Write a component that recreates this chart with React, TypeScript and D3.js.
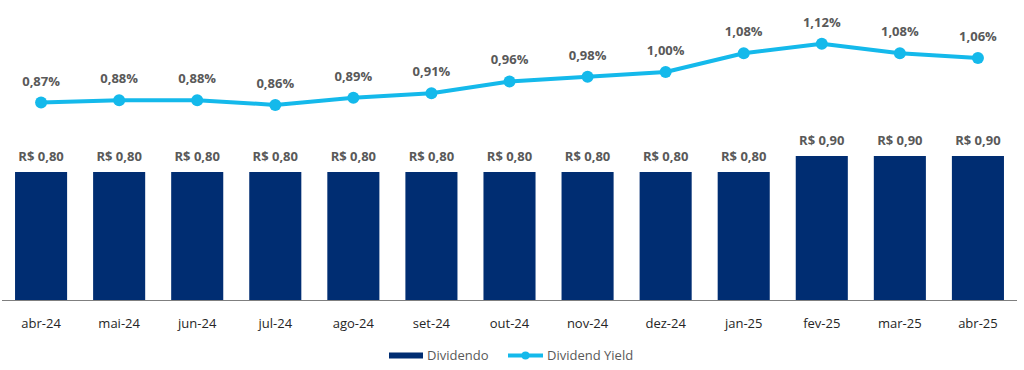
import React from 'react';
import { scaleBand, scaleLinear, line } from 'd3';

const months = ['abr-24', 'mai-24', 'jun-24', 'jul-24', 'ago-24', 'set-24', 'out-24', 'nov-24', 'dez-24', 'jan-25', 'fev-25', 'mar-25', 'abr-25'];
const dividends = [0.8, 0.8, 0.8, 0.8, 0.8, 0.8, 0.8, 0.8, 0.8, 0.8, 0.9, 0.9, 0.9];
const yields = [0.87, 0.88, 0.88, 0.86, 0.89, 0.91, 0.96, 0.98, 1.0, 1.08, 1.12, 1.08, 1.06];

const NAVY = '#002D72';
const CYAN = '#14B9EB';
const LABEL = '#595959';
const FONT = '"Open Sans", "Noto Sans", sans-serif';

const fmt = (v: number, d = 2) => v.toFixed(d).replace('.', ',');

export default function App() {
  const width = 1024;
  const height = 370;

  // x band over the plot, bars take about 2/3 of each band
  const x = scaleBand<string>().domain(months).range([2, 1017]).paddingInner(0.333).paddingOuter(0.167);
  // bars: value 0 sits on the axis
  const yBar = scaleLinear().domain([0, 1]).range([300, 140]);
  // yield line on its own scale in the top part
  const yLine = scaleLinear().domain([0.8, 1.2]).range([119, 25]);

  const cx = (m: string) => (x(m) as number) + x.bandwidth() / 2;

  const path = line<number>()
    .x((_, i) => cx(months[i]))
    .y((d) => yLine(d))(yields) as string;

  return (
    <svg width={width} height={height} style={{ position: 'absolute', left: 0, top: 0 }} fontFamily={FONT}>
      <rect width={width} height={height} fill="#fff" />

      {/* bars */}
      {months.map((m, i) => (
        <g key={m}>
          <rect x={x(m)} y={yBar(dividends[i])} width={x.bandwidth()} height={yBar(0) - yBar(dividends[i])} fill={NAVY} />
          <text x={cx(m)} y={yBar(dividends[i]) - 11} textAnchor="middle" fontSize={13} fontWeight="bold" fill={LABEL}>
            {'R$ ' + fmt(dividends[i])}
          </text>
          <text x={cx(m)} y={328} textAnchor="middle" fontSize={13} fill="#262626">
            {m}
          </text>
        </g>
      ))}

      {/* axis */}
      <line x1={2} x2={1017} y1={300.5} y2={300.5} stroke="#7f7f7f" strokeWidth={1} />

      {/* yield line */}
      <path d={path} fill="none" stroke={CYAN} strokeWidth={4} strokeLinejoin="round" />
      {yields.map((v, i) => (
        <g key={months[i]}>
          <circle cx={cx(months[i])} cy={yLine(v)} r={6} fill={CYAN} />
          <text x={cx(months[i])} y={yLine(v) - 17} textAnchor="middle" fontSize={13} fontWeight="bold" fill={LABEL}>
            {fmt(v) + '%'}
          </text>
        </g>
      ))}

      {/* legend */}
      <rect x={389} y={352.5} width={34} height={6} fill={NAVY} />
      <text x={427} y={360} fontSize={13} fill={LABEL}>Dividendo</text>
      <line x1={508} x2={543} y1={355.5} y2={355.5} stroke={CYAN} strokeWidth={4} />
      <circle cx={525.5} cy={355.5} r={4} fill={CYAN} />
      <text x={547} y={360} fontSize={13} fill={LABEL}>Dividend Yield</text>
    </svg>
  );
}
